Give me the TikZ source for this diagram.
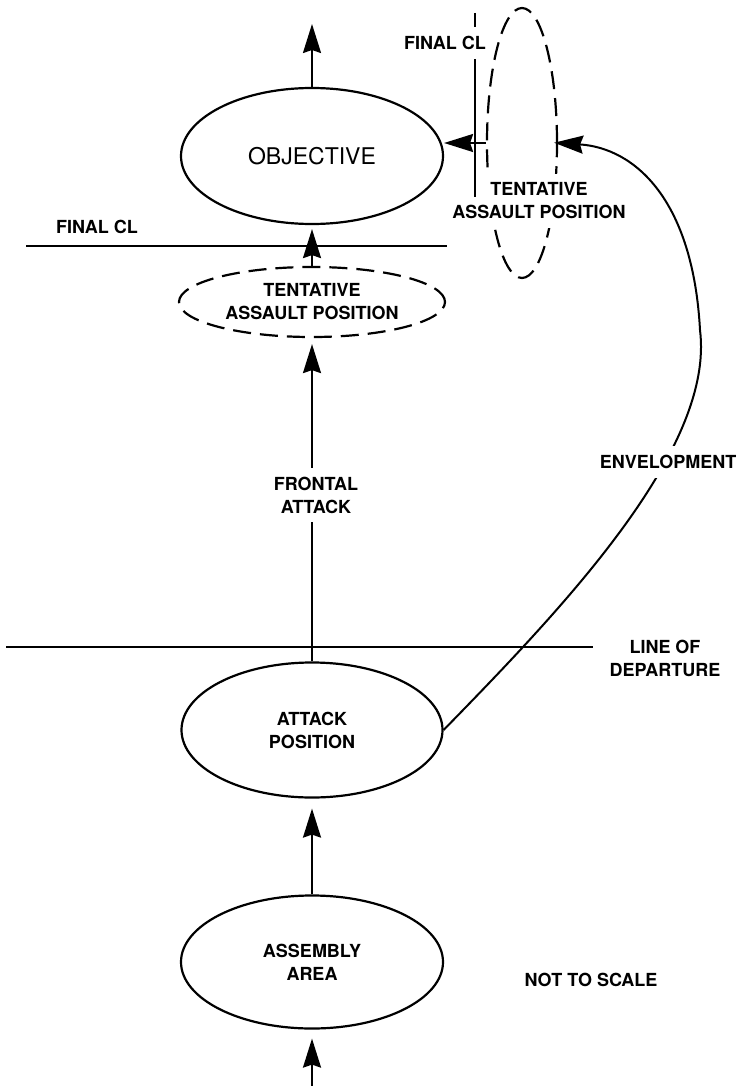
\documentclass[tikz,border=0pt]{standalone}
\usepackage{fontspec}
\setmainfont{TeX Gyre Heros}
\usetikzlibrary{shapes.geometric, arrows.meta, positioning}

\begin{document}
\begin{tikzpicture}[
        x=1pt, y=-1pt,
        area/.style={draw, ellipse, line width=2.2pt, inner sep=0pt, align=center},
        tentative/.style={area, dash pattern=on 18pt off 9pt},
        txt/.style={font=\bfseries\fontsize{18}{23}\selectfont, align=center},
        lbl/.style={txt, inner sep=2pt},
        cut/.style={txt, fill=white, inner xsep=1pt, inner ysep=9pt},
        arrow/.style={-{Stealth[length=29pt, width=18pt, inset=3pt]}, line width=2pt},
        phase/.style={line width=2pt}
    ]
        \useasboundingbox (0,0) rectangle (746,1086);

        % Areas
        \node (obj) [area, minimum width=262pt, minimum height=136pt, font=\fontsize{23}{28}\selectfont] at (312,156) {OBJECTIVE};
        \node (tap) [tentative, txt, minimum width=266pt, minimum height=70pt] at (312,302) {TENTATIVE\\ASSAULT POSITION};
        \node (atk) [area, txt, minimum width=261pt, minimum height=135pt] at (312,730) {ATTACK\\POSITION};
        \node (asm) [area, txt, minimum width=262pt, minimum height=133pt] at (312,962) {ASSEMBLY\\AREA};
        \node (rtap) [tentative, minimum width=70pt, minimum height=270pt] at (522,143) {};
        \node (rtaptxt) [cut] at (539,201) {TENTATIVE\\ASSAULT POSITION};

        % Phase lines
        \draw [phase] (26,246) -- (447,246);
        \node (fcl) [lbl] at (97,227) {FINAL CL};
        \draw [phase] (475,13) -- (475,197);
        \node (rfcl) [cut] at (445,43) {FINAL CL};
        \draw [phase] (6,647) -- (593,647);
        \node (ld) [lbl] at (665,658) {LINE OF\\DEPARTURE};

        % Arrows
        \coordinate (exit) at (312,24);
        \coordinate (entry) at (312,1086);
        \coordinate (bend) at (700,330);
        \draw [arrow] (obj.north) -- (exit);
        \draw [arrow, shorten >=4pt] (tap.north) -- (obj.south);
        \draw [arrow, shorten >=6pt] (atk.north) -- (tap.south);
        \draw [arrow, shorten >=10pt] (asm.north) -- (atk.south);
        \draw [arrow, shorten >=9pt] (entry) -- (asm.south);
        \draw [arrow] (rtap.west) -- (rtap.west -| obj.east);
        \draw [arrow, shorten >=-4pt] (atk.east) .. controls +(117,-120) and +(15,120) .. (bend)
            .. controls +(-7,-130) and +(77,5) .. (rtap.east);

        % Labels
        \node (front) [cut] at (316,495) {FRONTAL\\ATTACK};
        \node (env) [cut] at (668,462) {ENVELOPMENT};
        \node (nts) [lbl] at (591,980) {NOT TO SCALE};
    \end{tikzpicture}
\end{document}
